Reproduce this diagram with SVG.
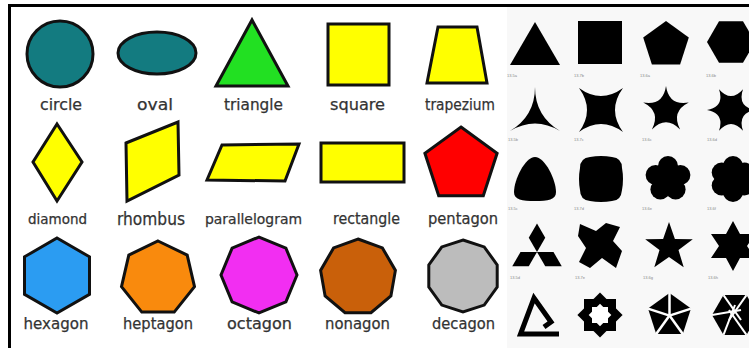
<svg xmlns="http://www.w3.org/2000/svg" width="749" height="348" viewBox="0 0 749 348">
<style>
.o{stroke:#111;stroke-width:3;stroke-linejoin:miter}
.l{font-family:"DejaVu Sans","Liberation Sans",sans-serif;font-size:15px;fill:#333;stroke:#333;stroke-width:0.25;text-anchor:middle}
.k{fill:#000}
.t{font-family:"Liberation Sans",sans-serif;font-size:4px;fill:#888}
</style>
<rect x="0" y="0" width="749" height="348" fill="#fff"/>
<rect x="507" y="7" width="242" height="341" fill="#f8f8f8"/>
<path d="M9.5,348 V5.5 H749" fill="none" stroke="#000" stroke-width="3"/>

<g id="circle"><circle class="o" cx="60" cy="54" r="33" fill="#137b80"/><text class="l" x="61" y="110" textLength="42" lengthAdjust="spacingAndGlyphs">circle</text></g>
<g id="oval"><ellipse class="o" cx="157" cy="53" rx="39" ry="21" fill="#137b80"/><text class="l" x="155" y="110" textLength="36" lengthAdjust="spacingAndGlyphs">oval</text></g>
<g id="triangle"><polygon class="o" points="216,86 252,20 288,86" fill="#22e022"/><text class="l" x="253.5" y="110" textLength="59" lengthAdjust="spacingAndGlyphs">triangle</text></g>
<g id="square"><rect class="o" x="328" y="24" width="61" height="61" fill="#ffff00"/><text class="l" x="357.5" y="110" textLength="55" lengthAdjust="spacingAndGlyphs">square</text></g>
<g id="trapezium"><polygon class="o" points="438,27 477,27 487,83 427,83" fill="#ffff00"/><text class="l" x="460" y="110" textLength="70" lengthAdjust="spacingAndGlyphs">trapezium</text></g>

<g id="diamond"><polygon class="o" points="57,124 82,162 57,201 33,162" fill="#ffff00"/><text class="l" x="57.5" y="224" style="font-size:13.5px" textLength="59" lengthAdjust="spacingAndGlyphs">diamond</text></g>
<g id="rhombus"><polygon class="o" points="126,143 178,122 179,175 127,201" fill="#ffff00"/><text class="l" x="151" y="225" style="font-size:17px" textLength="68" lengthAdjust="spacingAndGlyphs">rhombus</text></g>
<g id="parallelogram"><polygon class="o" points="222,145 299,144 285,181 207,180" fill="#ffff00"/><text class="l" x="253.5" y="224" style="font-size:14px" textLength="97" lengthAdjust="spacingAndGlyphs">parallelogram</text></g>
<g id="rectangle"><rect class="o" x="321" y="143" width="83" height="39" fill="#ffff00"/><text class="l" x="366.5" y="224" textLength="67" lengthAdjust="spacingAndGlyphs">rectangle</text></g>
<g id="pentagon"><polygon class="o" points="461,127 497.1,153.3 483.3,195.7 438.7,195.7 424.9,153.3" fill="#ff0000"/><text class="l" x="463" y="224" textLength="70" lengthAdjust="spacingAndGlyphs">pentagon</text></g>

<g id="hexagon"><polygon class="o" points="57,238 89.5,256.8 89.5,294.3 57,313 24.5,294.3 24.5,256.8" fill="#2b9cf2"/><text class="l" x="56" y="329" textLength="65" lengthAdjust="spacingAndGlyphs">hexagon</text></g>
<g id="heptagon"><polygon class="o" points="158,241 187.2,255.1 194.5,286.7 174.2,312.1 141.8,312.1 121.5,286.7 128.8,255.1" fill="#f98a0d"/><text class="l" x="158" y="329" textLength="70" lengthAdjust="spacingAndGlyphs">heptagon</text></g>
<g id="octagon"><polygon class="o" points="297,275 285.9,301.9 259,313 232.1,301.9 221,275 232.1,248.1 259,237 285.9,248.1" fill="#f22ef2"/><text class="l" x="259.5" y="329" textLength="65" lengthAdjust="spacingAndGlyphs">octagon</text></g>
<g id="nonagon"><polygon class="o" points="358,239 382.4,247.9 395.4,270.4 390.9,296 371,312.7 345,312.7 325.1,296 320.6,270.4 333.6,247.9" fill="#c9600a"/><text class="l" x="357.5" y="329" textLength="65" lengthAdjust="spacingAndGlyphs">nonagon</text></g>
<g id="decagon"><polygon class="o" points="463,240 484.2,246.9 497.2,264.9 497.2,287.1 484.2,305.1 463,312 441.8,305.1 428.8,287.1 428.8,264.9 441.8,246.9" fill="#bcbcbc"/><text class="l" x="463.5" y="329" textLength="63" lengthAdjust="spacingAndGlyphs">decagon</text></g>

<g id="silhouettes">
<polygon class="k" points="510,65 535,22 560,65"/>
<rect class="k" x="578" y="21" width="44" height="43"/>
<polygon class="k" points="666,21 688.8,37.6 680.1,64.4 651.9,64.4 643.2,37.6"/>
<polygon class="k" points="755,42 743,62.8 719,62.8 707,42 719,21.2 743,21.2"/>

<path class="k" d="M535,87 Q535,116 560,131 Q535,116 510,131 Q535,116 535,87Z"/>
<path class="k" d="M579,88 Q601,104 623,88 Q607,110 623,132 Q601,116 579,132 Q595,110 579,88Z"/>
<path class="k" d="M666,86 Q668.9,106 688.8,102.6 Q670.8,111.6 680.1,129.4 Q666,115 651.9,129.4 Q661.2,111.6 643.2,102.6 Q663.1,106 666,86Z"/>
<path class="k" d="M755,110 Q737.1,113.5 743,130.8 Q731,117 719,130.8 Q724.9,113.5 707,110 Q724.9,106.5 719,89.2 Q731,103 743,89.2 Q737.1,106.5 755,110Z"/>

<path class="k" d="M535,157 C545,157 556,180 556,192 C556,200 548,201 535,201 C522,201 514,200 514,192 C514,180 525,157 535,157Z"/>
<path class="k" d="M590,157 Q601,155 612,157 Q622,158 622,168 Q624,179 622,190 Q621,201 612,201 Q601,203 590,201 Q580,200 580,190 Q578,179 580,168 Q580,158 590,157Z"/>
<g class="k"><circle cx="668" cy="179" r="14"/><circle cx="668" cy="166" r="10"/><circle cx="680.4" cy="175" r="10"/><circle cx="675.6" cy="189.5" r="10"/><circle cx="660.4" cy="189.5" r="10"/><circle cx="655.6" cy="175" r="10"/></g>
<g class="k"><circle cx="733" cy="179" r="14"/><circle cx="733" cy="166" r="10"/><circle cx="744.3" cy="172.5" r="10"/><circle cx="744.3" cy="185.5" r="10"/><circle cx="733" cy="192" r="10"/><circle cx="721.7" cy="185.5" r="10"/><circle cx="721.7" cy="172.5" r="10"/></g>

<polygon class="k" points="537,252 528.75,237.7 537,223.4 545.25,237.7"/>
<polygon class="k" points="537,252 553.5,252 561.75,266.3 545.25,266.3"/>
<polygon class="k" points="537,252 520.5,252 512.25,266.3 528.75,266.3"/>
<polygon class="k" points="580,224 596,231 606,223 620,227 613,241 622,251 616,268 602,258 590,268 579,262 586,248 578,236"/>
<polygon class="k" points="669,222 674.9,238.9 692.8,239.3 678.5,250.1 683.7,267.2 669,257 654.3,267.2 659.5,250.1 645.2,239.3 663.1,238.9"/>
<polygon class="k" points="733,221 740,234 755,234 747,246 755,258 740,258 733,271 726,258 711,258 719,246 711,234 726,234"/>

<polyline points="559,334 520.5,334 534,298 551,322 544,327" fill="none" stroke="#000" stroke-width="5" stroke-linejoin="miter"/>
<rect class="k" x="584" y="299" width="32" height="32"/>
<polygon class="k" points="600,292.4 622.6,315 600,337.6 577.4,315"/>
<rect x="592" y="307" width="16" height="16" fill="#fff"/>
<polygon points="600,303.7 611.3,315 600,326.3 588.7,315" fill="#fff"/>
<polygon class="k" points="669.5,293 691,308.6 682.8,333.9 656.2,333.9 648,308.6"/>
<g stroke="#fff" stroke-width="2.5"><line x1="669.5" y1="315.6" x2="669.5" y2="293"/><line x1="669.5" y1="315.6" x2="691" y2="308.6"/><line x1="669.5" y1="315.6" x2="682.8" y2="333.9"/><line x1="669.5" y1="315.6" x2="656.2" y2="333.9"/><line x1="669.5" y1="315.6" x2="648" y2="308.6"/></g>
<polygon class="k" points="758,315 746.5,334.9 723.5,334.9 712,315 723.5,295.1 746.5,295.1"/>
<g stroke="#fff" stroke-width="2"><line x1="723.5" y1="295.1" x2="741" y2="320"/><line x1="712" y1="315" x2="741" y2="310"/><line x1="723.5" y1="334.9" x2="735" y2="305"/><line x1="746.5" y1="334.9" x2="729" y2="310"/><line x1="746.5" y1="295.1" x2="729" y2="320"/></g>
</g>

<g id="tiny-labels" class="t">
<text x="507" y="77">13.5a</text><text x="574" y="77">13.7b</text><text x="640" y="77">13.6a</text><text x="706" y="77">13.6b</text>
<text x="508" y="141">13.5b</text><text x="574" y="141">13.7c</text><text x="642" y="141">13.6c</text><text x="707" y="141">13.6d</text>
<text x="508" y="210">13.5c</text><text x="574" y="210">13.7d</text><text x="642" y="210">13.6e</text><text x="707" y="210">13.6f</text>
<text x="510" y="279">13.5d</text><text x="575" y="279">13.7e</text><text x="643" y="279">13.6g</text><text x="708" y="279">13.6h</text>
</g>
</svg>
